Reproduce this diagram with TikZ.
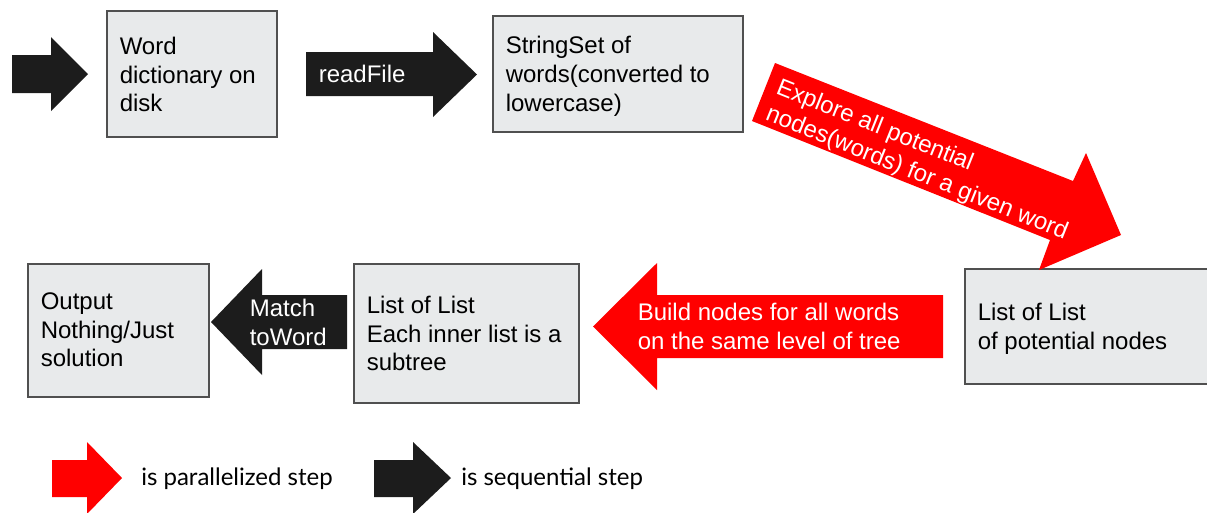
\documentclass[tikz,border=0pt]{standalone}
\usepackage{fontspec}
\setmainfont{Liberation Sans}
\newfontfamily\legendfont{Lato}
\usetikzlibrary{fit}
\definecolor{boxfill}{HTML}{E8EAEB}
\definecolor{boxline}{HTML}{505050}
\definecolor{seqblack}{HTML}{1C1C1C}
\definecolor{parred}{HTML}{FF0000}
\begin{document}
\begin{tikzpicture}[x=0.75pt,y=-0.75pt,
  stagebox/.style={draw=boxline, fill=boxfill, line width=1.1pt, inner sep=0pt},
  boxtext/.style={anchor=west, align=left, inner sep=0pt, text=black,
    font=\fontsize{18}{21.4}\selectfont},
  arrowtext/.style={boxtext, text=white},
  seqarrow/.style={fill=seqblack},
  pararrow/.style={fill=parred},
  legendtext/.style={anchor=base west, inner sep=0pt, text=black,
    font=\legendfont\fontsize{18}{22}\selectfont}]
\useasboundingbox (0,0) rectangle (1207,512);
\clip (0,0) rectangle (1207,512);

% processing stages
\node[stagebox, fit={(107,11) (277,137)}] (dict) {};
\node[stagebox, fit={(493,16) (743,132)}] (sset) {};
\node[stagebox, fit={(965,269) (1214,384)}] (pot) {};
\node[stagebox, fit={(354,264) (579,403)}] (tree) {};
\node[stagebox, fit={(28,264) (209,397)}] (out) {};

\node[boxtext] (dictT) at (119.5,74.75) {Word\\dictionary on\\disk};
\node[boxtext] (ssetT) at (505.5,76.25) {StringSet of\\words(converted to\\lowercase)};
\node[boxtext] (potT) at (977.5,329) {List of List\\of potential nodes};
\node[boxtext] (treeT) at (366.5,333.75) {List of List\\Each inner list is a\\subtree};
\node[boxtext] (outT) at (40.5,329.75) {Output\\Nothing/Just\\solution};

% sequential steps
\fill[seqarrow] (12,55) -- (51,55) -- (51,37) -- (88,74) -- (51,111) -- (51,93) -- (12,93) -- cycle;
\fill[seqarrow] (306,52) -- (433,52) -- (433,32) -- (477,74.5) -- (433,117) -- (433,96) -- (306,96) -- cycle;
\node[arrowtext, anchor=base west] (readT) at (318.5,82) {readFile};
\fill[seqarrow] (347,295) -- (262,295) -- (262,269) -- (211,322) -- (262,375) -- (262,349) -- (347,349) -- cycle;
\node[arrowtext] (matchT) at (249.5,322.5) {Match\\toWord};

% parallel steps
\fill[pararrow] (775,63) -- (1073,181) -- (1086,153) -- (1121,235) -- (1039,270) -- (1050,240) -- (752,121) -- cycle;
\node[arrowtext, rotate=-21.8] (exploreT) at (771.9,100.5) {Explore all potential\\nodes(words) for a given word};
\fill[pararrow] (943,295) -- (657,295) -- (657,263) -- (593,326.5) -- (657,390) -- (657,358) -- (943,358) -- cycle;
\node[arrowtext] (buildT) at (637.5,326.5) {Build nodes for all words\\on the same level of tree};

% legend
\fill[pararrow] (52,460) -- (87,460) -- (87,442) -- (122,478) -- (87,514) -- (87,497) -- (52,497) -- cycle;
\node[legendtext] (parT) at (141,485) {is parallelized step};
\fill[seqarrow] (374,460) -- (413,460) -- (413,442) -- (451,478) -- (413,514) -- (413,497) -- (374,497) -- cycle;
\node[legendtext] (seqT) at (461,485) {is sequential step};
\end{tikzpicture}
\end{document}
